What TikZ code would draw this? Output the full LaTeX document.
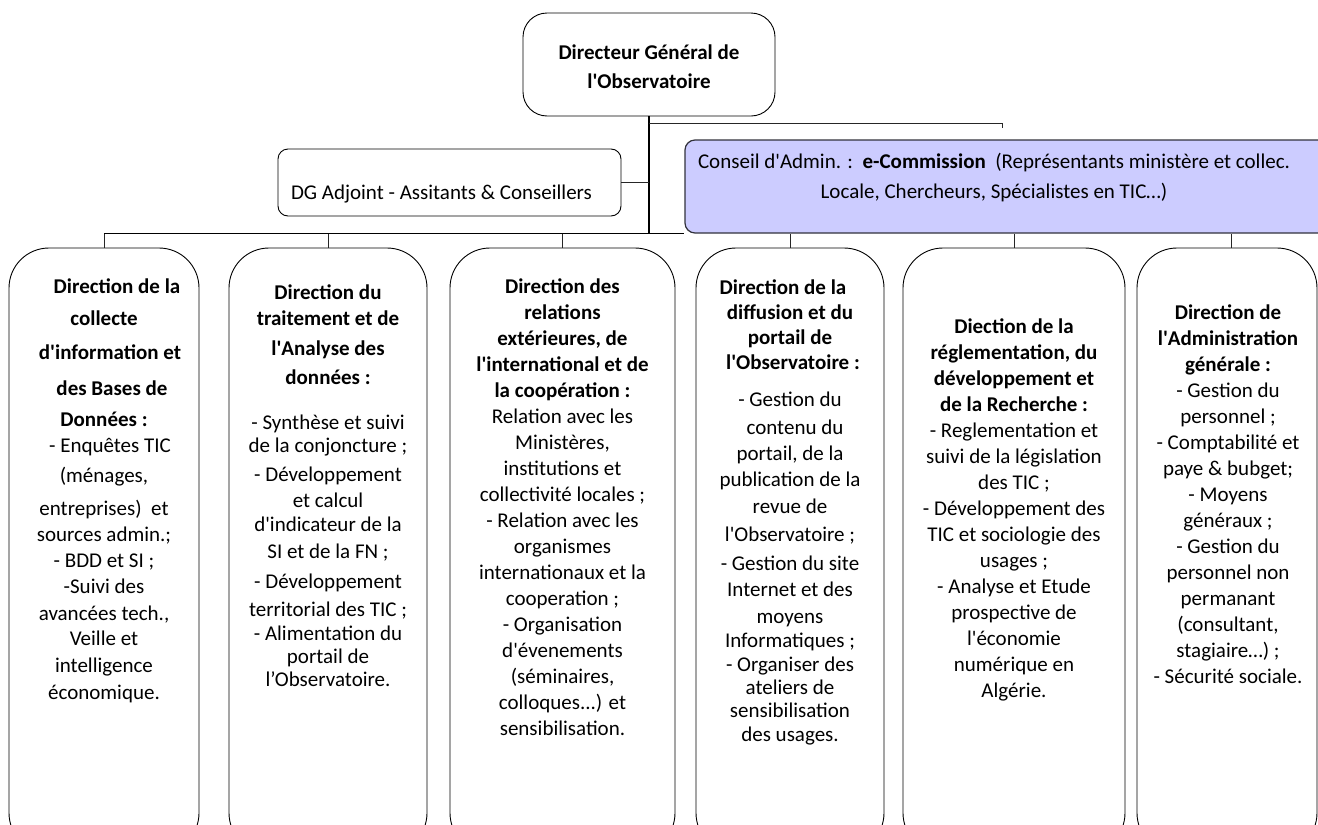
\documentclass[tikz,border=0pt]{standalone}
\usepackage{fontspec}
\setmainfont{Carlito}
\newcommand{\apo}{\textquotesingle}
\newcommand{\fl}{\rule{0pt}{20pt}}
\definecolor{conseilfill}{RGB}{204,204,255}
\definecolor{conseilline}{RGB}{50,50,60}
\begin{document}
\begin{tikzpicture}[x=1pt,y=-1pt,
  dirbox/.style={draw=black, line width=0.9pt, rounded corners=40pt, minimum width=#1, minimum height=605pt, inner sep=0pt},
  topbox/.style={draw=black, line width=0.9pt, rounded corners=24pt, minimum width=252pt, minimum height=103pt, inner sep=0pt},
  smallbox/.style={draw=black, line width=0.9pt, rounded corners=10pt, inner sep=0pt},
  consbox/.style={draw=conseilline, fill=conseilfill, line width=1.2pt, rounded corners=10pt, inner sep=0pt, minimum width=655pt, minimum height=93pt},
  txt/.style={inner sep=0pt, align=center, anchor=north, font=\fontsize{21}{26}\selectfont},
  conn/.style={draw=black!85, line width=0.8pt},
  trunk/.style={draw=black, line width=2pt},
  bus/.style={draw=black, line width=1.3pt}]
\useasboundingbox (0,0) rectangle (1318,825);
\clip (0,0) rectangle (1318,825);

% boxes
\node[topbox] (top) at (649,64.5) {};
\node[smallbox, minimum width=343pt, minimum height=67pt] (dg) at (449.5,182.5) {};
\node[consbox] (cons) at (1012.5,186.5) {};
\node[dirbox=190pt] (b1) at (104,550.5) {};
\node[dirbox=198pt] (b2) at (328,550.5) {};
\node[dirbox=225pt] (b3) at (562.5,550.5) {};
\node[dirbox=188pt] (b4) at (790,550.5) {};
\node[dirbox=222pt] (b5) at (1014,550.5) {};
\node[dirbox=180pt] (b6) at (1227,550.5) {};

% connectors
\coordinate (j) at (top.south |- cons.south);
\coordinate (ce) at (1002,128);
\draw[trunk] (top.south) -- (j);
\draw[conn] ([yshift=-7pt]top.south) -| (ce);
\draw[conn] (dg.east) -- (dg.east -| top.south);
\draw[bus] (b1.north |- j) -- (cons.south west);
\draw[conn] (b1.north) -- (b1.north |- j);
\draw[conn] (b2.north) -- (b2.north |- j);
\draw[conn] (b3.north) -- (b3.north |- j);
\draw[conn] (b4.north) -- (b4.north |- cons.south);
\draw[conn] (b5.north) -- (b5.north |- cons.south);
\draw[conn] ([xshift=4pt]b6.north) -- ([xshift=4pt]b6.north |- cons.south);

% texts
\node[txt] (t0) at (649,39) {\fl\textbf{Directeur Général de}\\[3pt]\textbf{l\apo Observatoire}};
\node[inner sep=0pt, anchor=base, font=\fontsize{21}{26}\selectfont] (tdg) at (441.5,199) {DG Adjoint - Assitants \& Conseillers};
\node[txt] (tc) at (994,148) {\fl Conseil d\apo Admin. :\ \ \textbf{e-Commission}\ \ (Représentants ministère et collec.\\[4pt]
Locale, Chercheurs, Spécialistes en TIC…)};

\node[txt] (t1) at (104,273) {\fl\hspace*{26pt}\textbf{Direction de la}\\[6pt]
\textbf{collecte}\\[8pt]
\hspace*{12pt}\textbf{d\apo information et}\\[10pt]
\hspace*{16pt}\textbf{des Bases de}\\[5pt]
\textbf{Données :}\\
\hspace*{12pt}- Enquêtes TIC\\[4pt]
(ménages,\\[7pt]
entreprises)\ \ et\\
sources admin.;\\
- BDD et SI ;\\
-Suivi des\\[1pt]
avancées tech.,\\[-1pt]
Veille et\\[1pt]
intelligence\\[1pt]
économique.};

\node[txt] (t2) at (328,279) {\fl\textbf{Direction du}\\
\textbf{traitement et de}\\[4pt]
\textbf{l\apo Analyse des}\\[3pt]
\textbf{données :}\\[19pt]
- Synthèse et suivi\\[-3pt]
de la conjoncture ;\\[3pt]
- Développement\\
et calcul\\[-2pt]
d\apo indicateur de la\\[1pt]
SI et de la FN ;\\[4pt]
- Développement\\[2pt]
territorial des TIC ;\\[-2pt]
- Alimentation du\\[-3pt]
portail de\\[-3pt]
l’Observatoire.};

\node[txt] (t3) at (562.5,273) {\fl\textbf{Direction des}\\
\textbf{relations}\\
\textbf{extérieures, de}\\
\textbf{l\apo international et de}\\
\textbf{la coopération :}\\
Relation avec les\\
Ministères,\\
institutions et\\
collectivité locales ;\\
- Relation avec les\\
organismes\\
internationaux et la\\
cooperation ;\\
- Organisation\\
d\apo évenements\\
(séminaires,\\
colloques...) et\\
sensibilisation.};

\node[txt] (t4) at (790,274) {\fl\textbf{Direction de la}\hspace*{14pt}\\[-1pt]
\textbf{diffusion et du}\hspace*{14pt}\\[-1pt]
\textbf{portail de}\hspace*{8pt}\\[-1pt]
\hspace*{6pt}\textbf{l\apo Observatoire :}\\[11pt]
- Gestion du\\[2pt]
\hspace*{10pt}contenu du\\
portail, de la\\
publication de la\\[1pt]
revue de\\[2pt]
l\apo Observatoire ;\\[3pt]
- Gestion du site\\
Internet et des\\[1pt]
moyens\\[-2pt]
Informatiques ;\\[-2pt]
- Organiser des\\[-3pt]
ateliers de\\[-3pt]
sensibilisation\\[-2pt]
des usages.};

\node[txt] (t5) at (1014,313) {\fl\textbf{Diection de la}\\
\textbf{réglementation, du}\\
\textbf{développement et}\\
\textbf{de la Recherche :}\\
- Reglementation et\\
suivi de la législation\\
des TIC ;\\
- Développement des\\
TIC et sociologie des\\
usages ;\\
- Analyse et Etude\\
prospective de\\
l\apo économie\\
numérique en\\
Algérie.};

\node[txt] (t6) at (1228,299) {\fl\textbf{Direction de}\\
\textbf{l\apo Administration}\\
\textbf{générale :}\\
- Gestion du\\
personnel ;\\
- Comptabilité et\\
paye \& bubget;\\
- Moyens\\
généraux ;\\
- Gestion du\\
personnel non\\
permanant\\
(consultant,\\
stagiaire…) ;\\
- Sécurité sociale.};
\end{tikzpicture}
\end{document}
